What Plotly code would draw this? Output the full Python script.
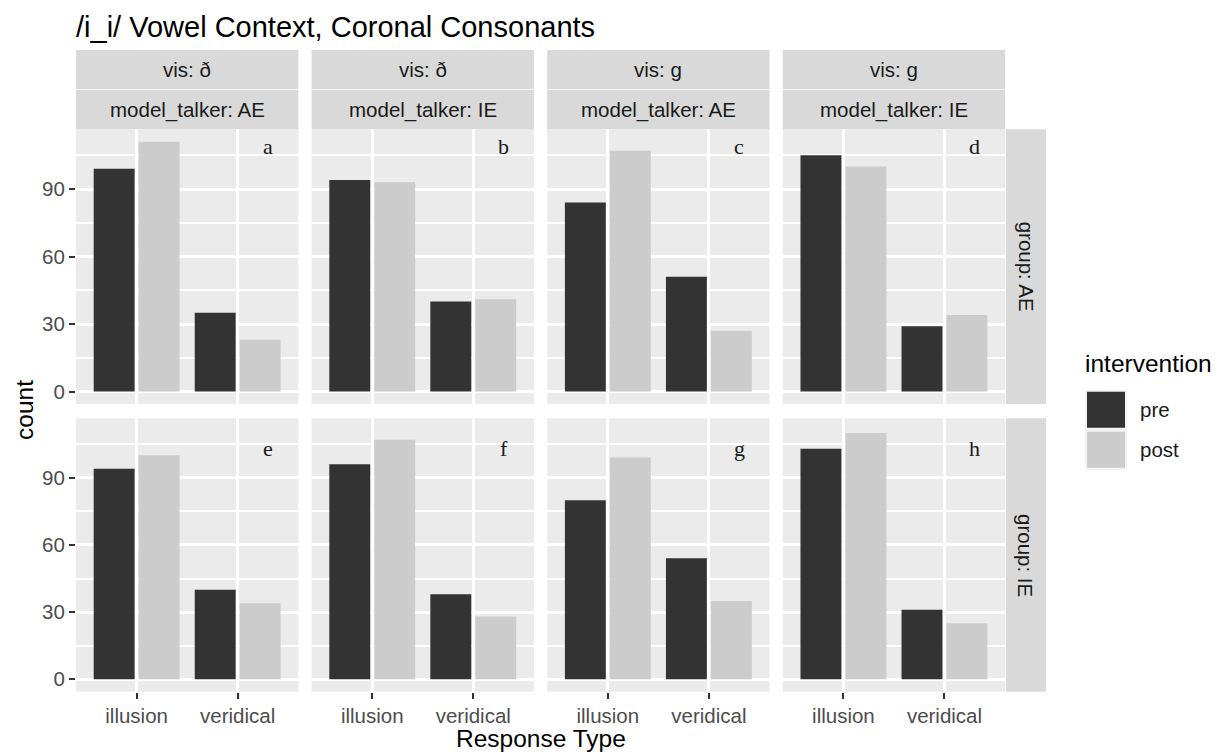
import plotly.graph_objects as go

# ---------------- data ----------------
categories = ["illusion", "veridical"]
vis_labels = ["vis: ð", "vis: ð", "vis: g", "vis: g"]
talker_labels = ["model_talker: AE", "model_talker: IE", "model_talker: AE", "model_talker: IE"]
group_labels = ["group: AE", "group: IE"]
panel_letters = [["a", "b", "c", "d"], ["e", "f", "g", "h"]]
series_names = ["pre", "post"]

# rows: group AE, group IE ; columns: (ð,AE), (ð,IE), (g,AE), (g,IE)
pre_illusion = [[99, 94, 84, 105], [94, 96, 80, 103]]
pre_veridical = [[35, 40, 51, 29], [40, 38, 54, 31]]
post_illusion = [[111, 93, 107, 100], [100, 107, 99, 110]]
post_veridical = [[23, 41, 27, 34], [34, 28, 35, 25]]

y_ticks = [0, 30, 60, 90]
y_minor = [15, 45, 75, 105]
letter_y = [108.7, 103.0]

# ---------------- layout helpers ----------------
OFF = 8  # page body margin
W, H = 1225 - OFF, 755 - OFF
col_px = [(76, 298.3), (311.6, 533.9), (547.2, 769.5), (782.8, 1005.1)]
row_px = [(129.3, 404.0), (418.3, 691.7)]
FONT = "Liberation Sans, Arial, sans-serif"
colors = {"pre": "#333333", "post": "#CCCCCC"}


def px(x):
    return (x - OFF) / W


def py(y):
    return 1 - (y - OFF) / H


ymax = max(max(max(r) for r in a) for a in [pre_illusion, pre_veridical, post_illusion, post_veridical])
yrange = [-0.05 * ymax, 1.05 * ymax]

fig = go.Figure()
layout = {}
shapes = []
annotations = []

for r in range(2):
    for c in range(4):
        i = r * 4 + c + 1
        xa = "x" if i == 1 else f"x{i}"
        ya = "y" if i == 1 else f"y{i}"
        vals = {
            "pre": [pre_illusion[r][c], pre_veridical[r][c]],
            "post": [post_illusion[r][c], post_veridical[r][c]],
        }
        for s in series_names:
            fig.add_trace(go.Bar(
                x=categories, y=vals[s], name=s, marker_color=colors[s],
                marker_line_width=0, xaxis=xa, yaxis=ya, showlegend=False,
                offsetgroup=s,
            ))
        xk = "xaxis" if i == 1 else f"xaxis{i}"
        yk = "yaxis" if i == 1 else f"yaxis{i}"
        bottom = r == 1
        left = c == 0
        layout[xk] = dict(
            domain=[px(col_px[c][0]), px(col_px[c][1])],
            anchor=ya, type="category", categoryorder="array", categoryarray=categories,
            range=[-0.6, 1.6], showgrid=True, gridcolor="white", gridwidth=3,
            zeroline=False, showline=False,
            ticks="outside" if bottom else "", ticklen=6, tickwidth=2, tickcolor="#333333",
            showticklabels=bottom,
            tickfont=dict(family=FONT, size=20.5, color="#4D4D4D"),
            fixedrange=True,
        )
        layout[yk] = dict(
            domain=[py(row_px[r][1]), py(row_px[r][0])],
            anchor=xa, range=yrange, tickvals=y_ticks,
            showgrid=True, gridcolor="white", gridwidth=3,
            minor=dict(tickvals=y_minor, showgrid=True, gridcolor="white", gridwidth=1.5, ticks=""),
            zeroline=False, showline=False,
            ticks="outside" if left else "", ticklen=6, tickwidth=2, tickcolor="#333333",
            showticklabels=left,
            tickfont=dict(family=FONT, size=20.5, color="#4D4D4D"),
            fixedrange=True,
        )
        annotations.append(dict(
            x=1.3, y=letter_y[r], xref=xa, yref=ya, text=panel_letters[r][c],
            showarrow=False, xanchor="center", yanchor="middle",
            font=dict(family="Liberation Serif, Times New Roman, serif", size=22, color="#1A1A1A"),
        ))

# top strips
for c in range(4):
    x0, x1 = col_px[c]
    for (y0, y1, txt) in [(50, 89.0, vis_labels[c]), (89.8, 129.3, talker_labels[c])]:
        shapes.append(dict(type="rect", xref="paper", yref="paper",
                           x0=px(x0), x1=px(x1), y0=py(y1), y1=py(y0),
                           fillcolor="#D9D9D9", line_width=0, layer="below"))
        annotations.append(dict(x=px((x0 + x1) / 2), y=py((y0 + y1) / 2), xref="paper", yref="paper",
                                text=txt, showarrow=False, xanchor="center", yanchor="middle",
                                font=dict(family=FONT, size=20.5, color="#1A1A1A")))

# right strips
for r in range(2):
    y0, y1 = row_px[r]
    shapes.append(dict(type="rect", xref="paper", yref="paper",
                       x0=px(1005.9), x1=px(1046), y0=py(y1), y1=py(y0),
                       fillcolor="#D9D9D9", line_width=0, layer="below"))
    annotations.append(dict(x=px(1026), y=py((y0 + y1) / 2), xref="paper", yref="paper",
                            text=group_labels[r], textangle=90, showarrow=False,
                            xanchor="center", yanchor="middle",
                            font=dict(family=FONT, size=20.5, color="#1A1A1A")))

# title and axis titles
annotations.append(dict(x=px(75), y=py(27), xref="paper", yref="paper",
                        text="/i_i/ Vowel Context, Coronal Consonants", showarrow=False,
                        xanchor="left", yanchor="middle", borderpad=0,
                        font=dict(family=FONT, size=29, color="black")))
annotations.append(dict(x=px(24), y=py(410), xref="paper", yref="paper",
                        text="count", textangle=-90, showarrow=False,
                        xanchor="center", yanchor="middle",
                        font=dict(family=FONT, size=24.5, color="black")))
annotations.append(dict(x=px(540.5), y=py(738), xref="paper", yref="paper",
                        text="Response Type", showarrow=False,
                        xanchor="center", yanchor="middle",
                        font=dict(family=FONT, size=24.5, color="black")))

# legend (manual)
annotations.append(dict(x=px(1083), y=py(363), xref="paper", yref="paper",
                        text="intervention", showarrow=False, xanchor="left", yanchor="middle",
                        font=dict(family=FONT, size=24.5, color="black")))
key_tops = [389.7, 429.7]
for k, s in enumerate(series_names):
    t = key_tops[k]
    shapes.append(dict(type="rect", xref="paper", yref="paper",
                       x0=px(1085), x1=px(1127), y0=py(t + 40), y1=py(t),
                       fillcolor="#F2F2F2", line_width=0))
    shapes.append(dict(type="rect", xref="paper", yref="paper",
                       x0=px(1087), x1=px(1125), y0=py(t + 38), y1=py(t + 2),
                       fillcolor=colors[s], line_width=0))
    annotations.append(dict(x=px(1138), y=py(t + 20), xref="paper", yref="paper",
                            text=s, showarrow=False, xanchor="left", yanchor="middle",
                            font=dict(family=FONT, size=20.5, color="#1A1A1A")))

fig.update_layout(
    width=W, height=H, autosize=False,
    margin=dict(l=0, r=0, t=0, b=0),
    paper_bgcolor="white", plot_bgcolor="#EBEBEB",
    barmode="group", bargap=0.11, bargroupgap=0.09,
    showlegend=False,
    shapes=shapes, annotations=annotations,
    font=dict(family=FONT),
    **layout,
)

fig.write_html("out.html")
